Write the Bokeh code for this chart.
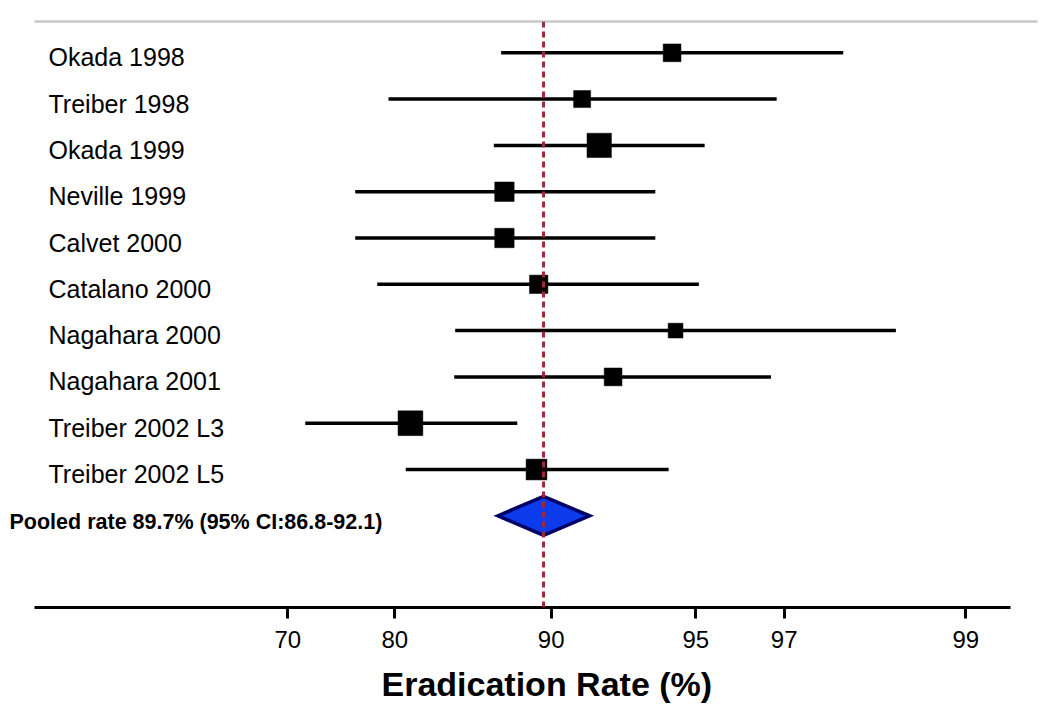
import numpy as np
from bokeh.plotting import figure
from bokeh.models import Range1d, LinearAxis, FixedTicker, Span, ColumnDataSource, Title
from bokeh.core.properties import value
from bokeh.embed import file_html
from bokeh.resources import INLINE

# ---------------- data ----------------
STUDIES = ["Okada 1998", "Treiber 1998", "Okada 1999", "Neville 1999", "Calvet 2000",
           "Catalano 2000", "Nagahara 2000", "Nagahara 2001", "Treiber 2002 L3",
           "Treiber 2002 L5"]
RATE = [94.18, 91.07, 91.66, 87.01, 87.01, 89.20, 94.30, 92.14, 81.00, 89.06]
CI_LOW = [86.80, 79.41, 86.33, 76.30, 76.30, 78.36, 83.86, 83.80, 71.63, 80.70]
CI_HIGH = [97.65, 96.83, 95.20, 93.60, 93.60, 95.07, 98.23, 96.70, 87.83, 94.06]
WEIGHT = [0.89, 0.85, 1.22, 0.97, 0.97, 0.92, 0.74, 0.89, 1.24, 1.04]

POOLED_LABEL = "Pooled rate 89.7% (95% CI:86.8-92.1)"
POOLED_RATE = 89.51
POOLED_LOW = 86.59
POOLED_HIGH = 91.33

TICK_VALUES = [70, 80, 90, 95, 97, 99]
X_TITLE = "Eradication Rate (%)"

# ---------------- axis scale (non-linear, breakpoints at the ticks) ----------------
TICK_BREAKS = [0.0, 107.0, 263.4, 408.0, 496.4, 678.0]   # layout of the tick marks


def to_axis(v):
    return np.interp(np.asarray(v, dtype=float), TICK_VALUES, TICK_BREAKS)


FONT = "Liberation Sans"

X_START, X_END = -279.3, 752.7
Y_TOP, Y_BOTTOM = -0.676, 11.98

p = figure(width=1040, height=716, output_backend="svg", toolbar_location=None,
           x_range=Range1d(X_START, X_END), y_range=Range1d(Y_BOTTOM, Y_TOP),
           x_axis_location=None, y_axis_location=None,
           min_border_left=8, min_border_right=0, min_border_top=21, min_border_bottom=109)
p.outline_line_color = None
p.grid.visible = False
p.background_fill_color = "white"

rows = list(range(len(STUDIES)))
src = ColumnDataSource(dict(
    y=rows, study=STUDIES,
    x=to_axis(RATE), lo=to_axis(CI_LOW), hi=to_axis(CI_HIGH),
    size=[w * 20 for w in WEIGHT],
))

# dashed pooled line
p.add_layout(Span(location=float(to_axis(POOLED_RATE)), dimension="height",
                  line_color="#9E2A36", line_width=3, line_dash="6 4"))

# CI lines
p.segment(x0="lo", y0="y", x1="hi", y1="y", source=src, line_color="black",
          line_width=3.5, line_cap="butt")
# point estimates
p.scatter(x="x", y="y", size="size", marker="square", source=src,
          fill_color="black", line_color="black", line_width=0.5)

# study labels
p.text(x=X_START, y="y", text="study", source=src, x_offset=40, y_offset=4.5,
       text_font=value(FONT), text_font_size="25px", text_baseline="middle",
       text_align="left", text_color="black")

# pooled diamond
py = len(STUDIES)
half_h = 0.42
px = to_axis([POOLED_LOW, POOLED_RATE, POOLED_HIGH, POOLED_RATE])
p.patch(x=list(px), y=[py, py - half_h, py, py + half_h],
        fill_color="#0B3BEB", line_color="#000066", line_width=3.5, line_join="miter")
p.text(x=[X_START], y=[py], text=[POOLED_LABEL], x_offset=1, y_offset=6,
       text_font=value(FONT), text_font_size="21.5px", text_font_style="bold",
       text_baseline="middle", text_align="left", text_color="black")

# bottom axis
ticks = [float(t) for t in to_axis(TICK_VALUES)]
xaxis = LinearAxis(ticker=FixedTicker(ticks=ticks),
                   major_label_overrides={t: str(v) for t, v in zip(ticks, TICK_VALUES)},
                   bounds=(-253.3, 722.7))
xaxis.axis_line_width = 3
xaxis.axis_line_color = "black"
xaxis.major_tick_out = 11
xaxis.major_tick_in = 0
xaxis.major_tick_line_width = 3
xaxis.minor_tick_line_color = None
xaxis.major_label_text_font = FONT
xaxis.major_label_text_font_size = "24px"
xaxis.major_label_text_color = "black"
xaxis.major_label_standoff = 12
p.add_layout(xaxis, "below")

# axis title, placed where the reference has it
p.add_layout(Title(text=X_TITLE, align="left", offset=373, standoff=24,
                   text_font=FONT, text_font_size="34px", text_font_style="bold",
                   text_color="black"), "below")

# top grey rule
top = LinearAxis(ticker=FixedTicker(ticks=[]), bounds=(-253.3, 749.7))
top.axis_line_color = "#C8C8C8"
top.axis_line_width = 2.5
top.major_tick_line_color = None
top.minor_tick_line_color = None
top.major_label_text_font_size = "0px"
p.add_layout(top, "above")

open("out.html", "w").write(file_html(p, INLINE))
